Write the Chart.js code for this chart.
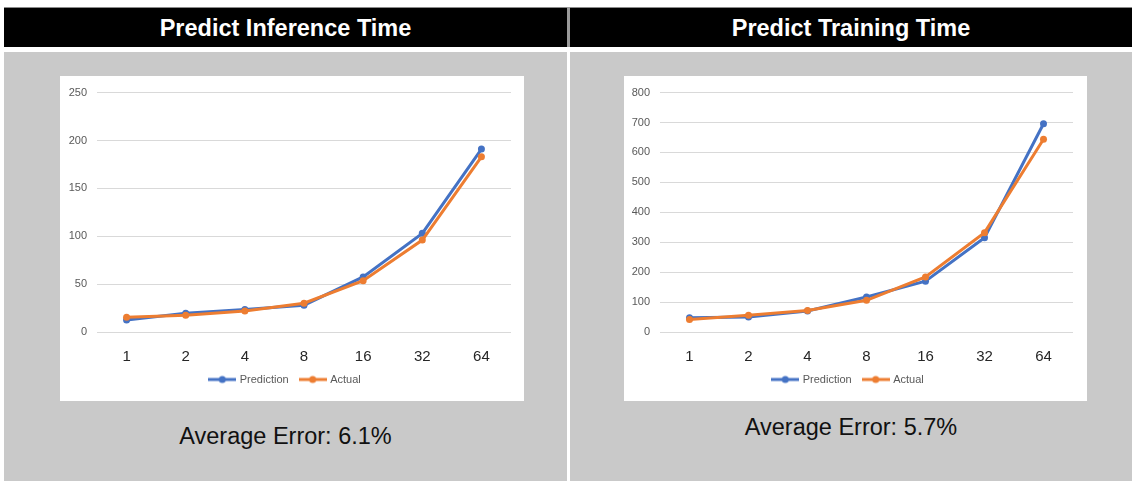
<!DOCTYPE html>
<html>
<head>
<meta charset="utf-8">
<script src="https://cdn.jsdelivr.net/npm/chart.js@4/dist/chart.umd.min.js"></script>
<style>
  html, body { margin: 0; padding: 0; background: #ffffff; }
  body { width: 1132px; height: 481px; position: relative; overflow: hidden; font-family: "Liberation Sans", Arial, sans-serif; }
  .header { position: absolute; top: 7px; height: 40px; background: #000; color: #fff; font-weight: bold; font-size: 23.5px; line-height: 40px; text-align: center; border-top: 1px solid #8a8a8a; box-sizing: border-box; }
  .panel { position: absolute; top: 52px; height: 429px; background: #c9c9c9; }
  .sep { position: absolute; left: 567px; top: 7px; width: 3px; height: 40px; background: #9a9a9a; }
  .box { position: absolute; top: 76px; height: 325px; background: #fff; }
  .box canvas { display: block; }
  .err { position: absolute; font-size: 23.5px; color: #111; text-align: center; }
</style>
</head>
<body>
<div class="header" style="left:4px; width:563px;">Predict Inference Time</div>
<div class="sep"></div>
<div class="header" style="left:570px; width:562px;">Predict Training Time</div>
<div class="panel" style="left:4px; width:563px;"></div>
<div class="panel" style="left:570px; width:562px;"></div>

<div class="box" style="left:60px; width:464px;"><canvas id="inferenceChart" width="464" height="325"></canvas></div>
<div class="box" style="left:624px; width:463px;"><canvas id="trainingChart" width="463" height="325"></canvas></div>

<div class="err" style="left:4px; width:563px; top:423px;">Average Error: 6.1%</div>
<div class="err" style="left:570px; width:562px; top:414px;">Average Error: 5.7%</div>

<script>
// Batch sizes along the x axis
const batchSizes = ['1', '2', '4', '8', '16', '32', '64'];

// Inference time: predicted vs. measured
const inferencePrediction = [12.5, 19.5, 23.5, 28, 57.5, 103, 191];
const inferenceActual = [15.5, 17.5, 22, 30, 53.5, 96, 183];

// Training time: predicted vs. measured
const trainingPrediction = [48, 50, 70, 117, 170, 315, 696];
const trainingActual = [42, 56, 72, 106, 184, 332, 644];

// Value axis ranges
const inferenceAxis = { max: 250, step: 50 };
const trainingAxis = { max: 800, step: 100 };

const seriesNames = ['Prediction', 'Actual'];
const BLUE = '#4472C4';
const ORANGE = '#ED7D31';
const FONT = '"Liberation Sans", Arial, sans-serif';

// Legend marker: a short line with a dot in the middle
function legendMarker(color) {
  const c = document.createElement('canvas');
  c.width = 28; c.height = 10;
  const g = c.getContext('2d');
  g.strokeStyle = color; g.lineWidth = 3;
  g.beginPath(); g.moveTo(0, 5); g.lineTo(28, 5); g.stroke();
  g.fillStyle = color;
  g.beginPath(); g.arc(14, 5, 3.5, 0, Math.PI * 2); g.fill();
  return c;
}
const markers = [legendMarker(BLUE), legendMarker(ORANGE)];

function buildChart(id, pred, actual, axis, axisWidth, rightPad) {
  new Chart(document.getElementById(id), {
    type: 'line',
    data: {
      labels: batchSizes,
      datasets: [
        { label: seriesNames[0], data: pred, borderColor: BLUE, backgroundColor: BLUE,
          borderWidth: 3, pointRadius: 3.5, pointBorderWidth: 0, pointBackgroundColor: BLUE, tension: 0, order: 1 },
        { label: seriesNames[1], data: actual, borderColor: ORANGE, backgroundColor: ORANGE,
          borderWidth: 3, pointRadius: 3.5, pointBorderWidth: 0, pointBackgroundColor: ORANGE, tension: 0, order: 0 }
      ]
    },
    options: {
      responsive: false,
      animation: false,
      devicePixelRatio: 1,
      layout: { padding: { top: 16, right: rightPad, left: 0, bottom: 6 } },
      plugins: {
        tooltip: { enabled: false },
        legend: {
          position: 'bottom',
          labels: {
            usePointStyle: true,
            pointStyleWidth: 24,
            padding: 12,
            color: '#595959',
            font: { family: FONT, size: 11 },
            sort: (a, b) => a.datasetIndex - b.datasetIndex,
            generateLabels(chart) {
              const items = Chart.defaults.plugins.legend.labels.generateLabels(chart);
              items.forEach(it => { it.pointStyle = markers[it.datasetIndex]; });
              return items;
            }
          }
        }
      },
      scales: {
        x: {
          offset: true,
          afterFit(scale) { scale.height = 30; },
          grid: { display: false, drawTicks: false },
          border: { display: false },
          ticks: { color: '#262626', padding: 16, font: { family: FONT, size: 15 } }
        },
        y: {
          min: 0,
          max: axis.max,
          afterFit(scale) { scale.width = axisWidth; },
          border: { display: false },
          grid: { color: '#d9d9d9', lineWidth: 1, drawTicks: false },
          ticks: { stepSize: axis.step, color: '#595959', padding: 10, font: { family: FONT, size: 11 } }
        }
      }
    }
  });
}

buildChart('inferenceChart', inferencePrediction, inferenceActual, inferenceAxis, 37, 13);
buildChart('trainingChart', trainingPrediction, trainingActual, trainingAxis, 36, 14);
</script>
</body>
</html>
